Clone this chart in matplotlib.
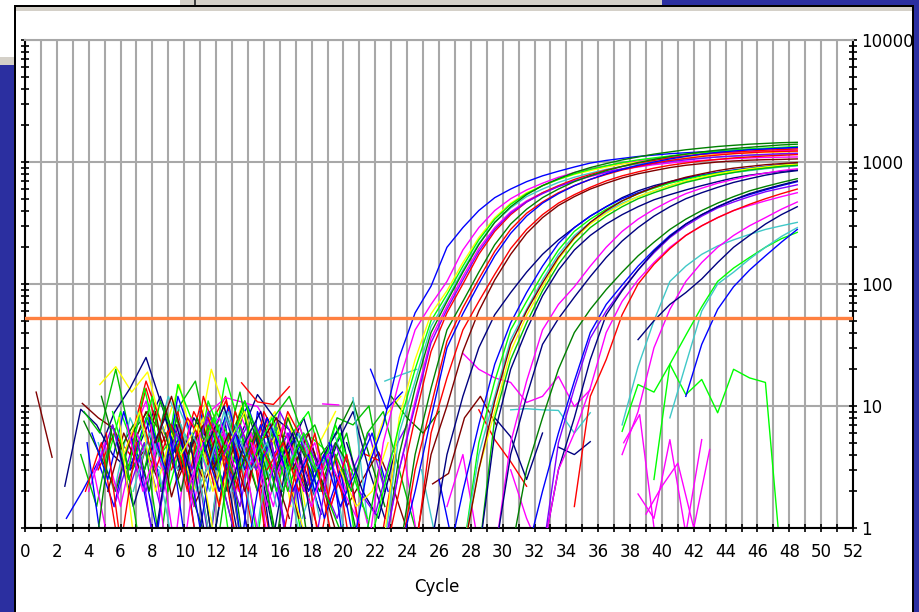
import numpy as np
import matplotlib
matplotlib.use('Agg')
import matplotlib.pyplot as plt
from matplotlib.patches import Rectangle
from matplotlib.ticker import FixedLocator, NullFormatter

BLUE = '#0000FF'
LIME = '#00FF00'
GREEN = '#00C000'
RED = '#FF0000'
MAG = '#FF00FF'
YEL = '#FFFF00'
CYAN = '#40C8C8'
DKGRN = '#008000'
MAROON = '#800000'
NAVY = '#000080'
PURPLE = '#8000FF'

threshold = 53
last_cycle = 48.5

# Amplification curves, one value per cycle, all ending at last_cycle
early_colors = [BLUE, MAG, YEL, LIME, CYAN, DKGRN, MAG, RED, PURPLE, DKGRN, RED, BLUE, MAROON, RED]
early_values = [
    [0.6, 3, 7, 25, 58, 96, 200, 290, 400, 510, 600, 690, 770, 840, 910, 980, 1030, 1070, 1110, 1140, 1170, 1190, 1210, 1230, 1250, 1270, 1280, 1300, 1310],
    [0.6, 5, 16, 42, 68, 105, 190, 290, 400, 500, 590, 670, 750, 820, 880, 930, 980, 1020, 1060, 1090, 1120, 1150, 1170, 1190, 1210, 1225, 1240, 1250],
    [0.7, 8, 24, 57, 88, 150, 240, 350, 460, 560, 640, 720, 790, 850, 910, 960, 1000, 1040, 1070, 1100, 1130, 1150, 1170, 1190, 1200, 1210, 1220],
    [0.6, 2, 7, 20, 50, 82, 140, 230, 340, 450, 550, 640, 720, 800, 870, 930, 990, 1040, 1080, 1120, 1160, 1190, 1220, 1250, 1280, 1300, 1320, 1340],
    [0.6, 6, 16, 45, 75, 130, 215, 320, 420, 520, 600, 680, 750, 810, 870, 920, 960, 1000, 1030, 1060, 1080, 1100, 1115, 1130, 1140, 1150, 1160],
    [0.5, 4, 14, 40, 72, 125, 210, 320, 430, 540, 640, 730, 820, 900, 970, 1040, 1100, 1160, 1210, 1260, 1300, 1340, 1370, 1400, 1420, 1440, 1450],
    [0.6, 3, 11, 36, 66, 115, 195, 290, 390, 480, 560, 630, 700, 760, 820, 870, 910, 950, 980, 1010, 1030, 1050, 1065, 1080, 1090, 1095, 1100],
    [0.5, 2, 8, 28, 58, 100, 175, 270, 370, 470, 560, 640, 720, 790, 860, 920, 980, 1030, 1080, 1120, 1160, 1190, 1210, 1230, 1250, 1265, 1280],
    [0.6, 3, 10, 33, 62, 108, 185, 280, 380, 470, 550, 630, 700, 770, 830, 880, 930, 970, 1010, 1040, 1070, 1100, 1120, 1140, 1155, 1170, 1180],
    [0.6, 4, 14, 42, 72, 125, 210, 310, 410, 510, 600, 690, 770, 850, 920, 990, 1050, 1110, 1160, 1210, 1250, 1290, 1320, 1350, 1380, 1400],
    [0.5, 3, 10, 34, 64, 110, 185, 280, 380, 470, 560, 640, 720, 790, 860, 920, 980, 1030, 1070, 1110, 1140, 1170, 1190, 1210, 1220, 1230],
    [0.6, 2, 8, 30, 57, 100, 170, 260, 360, 460, 550, 640, 720, 800, 870, 940, 1000, 1060, 1110, 1160, 1200, 1230, 1260, 1280, 1300, 1320],
    [0.7, 4, 10, 28, 60, 108, 175, 260, 350, 440, 520, 600, 670, 740, 800, 850, 900, 940, 970, 1000, 1020, 1035, 1045, 1050, 1060],
    [0.6, 6, 17, 42, 72, 120, 195, 280, 370, 460, 540, 620, 700, 770, 830, 890, 940, 980, 1020, 1050, 1080, 1100, 1120, 1135, 1150],
]

mid_colors = [NAVY, BLUE, LIME, CYAN, YEL, MAROON, GREEN, NAVY, MAG, NAVY, DKGRN]
mid_values = [
    [0.7, 4, 12, 30, 56, 85, 125, 175, 230, 290, 360, 430, 510, 580, 640, 690, 740, 780, 820, 850, 880, 900, 920, 940],
    [0.5, 2, 7, 22, 48, 85, 140, 215, 290, 360, 430, 500, 560, 620, 680, 730, 780, 820, 860, 890, 920, 950, 970],
    [0.6, 5, 16, 42, 72, 120, 190, 270, 340, 410, 480, 550, 610, 670, 720, 770, 810, 850, 880, 910, 940, 960],
    [0.6, 4, 12, 35, 62, 108, 175, 250, 320, 390, 460, 520, 580, 640, 690, 740, 780, 820, 850, 880, 910, 930],
    [0.6, 3, 9, 28, 55, 95, 160, 235, 310, 380, 450, 520, 580, 640, 700, 750, 800, 840, 880, 910, 940, 960],
    [0.6, 3, 11, 32, 60, 102, 165, 240, 320, 400, 480, 550, 620, 690, 750, 800, 850, 890, 920, 950, 970, 990],
    [0.6, 8, 24, 48, 88, 145, 215, 290, 360, 430, 500, 560, 620, 680, 730, 780, 820, 860, 890, 920, 940],
    [0.6, 6, 20, 42, 80, 130, 190, 250, 310, 370, 430, 490, 540, 590, 640, 690, 740, 780, 810, 840, 860],
    [0.6, 5, 16, 42, 68, 95, 140, 200, 270, 340, 410, 480, 550, 610, 670, 720, 770, 810, 850, 880],
    [0.6, 4, 12, 32, 52, 78, 115, 165, 225, 290, 360, 430, 500, 560, 620, 680, 730, 780, 820, 850],
    [0.6, 3, 8, 20, 40, 62, 90, 125, 170, 220, 280, 340, 400, 460, 520, 580, 630, 680, 730],
]

late_colors = [BLUE, PURPLE, NAVY, MAG, RED, CYAN, MAG, NAVY, LIME, CYAN, BLUE]
late_values = [
    [0.6, 2, 6, 16, 40, 68, 98, 140, 190, 250, 310, 370, 430, 490, 540, 590, 640, 690],
    [0.6, 5, 14, 36, 60, 90, 130, 180, 240, 300, 360, 420, 470, 520, 570, 610, 650],
    [0.6, 3, 8, 24, 56, 88, 130, 185, 245, 310, 370, 430, 490, 550, 600, 650, 700],
    [0.6, 3, 6, 14, 40, 72, 108, 150, 200, 250, 300, 350, 400, 440, 480, 520, 560],
    [1.5, 12, 24, 56, 100, 145, 195, 250, 300, 350, 400, 450, 500, 550, 600],
    [7, 21, 50, 105, 140, 175, 205, 230, 255, 280, 300, 320],
    [4, 9, 30, 62, 105, 150, 200, 250, 300, 350, 410, 470],
    [35, 50, 68, 85, 110, 150, 200, 250, 310, 370, 430],
    [2.5, 22, 38, 65, 105, 135, 165, 200, 235, 265],
    [8, 22, 60, 100, 125, 160, 200, 245, 290],
    [12, 32, 62, 95, 130, 170, 220, 280],
]

# Background noise of the non-amplifying wells: start cycle, colour, values
noise_starts = [0.7, 2.5, 2.6, 3.6, 4.7, 4.6, 3.7, 4.6, 5.6, 4.6, 3.7, 5.6, 6.6, 6.6, 7.6,
                8.6, 6.6, 9.6, 8.6, 10.6, 13.6, 14.6, 16.5, 15.6, 16.6, 18.7, 19.2, 18.6,
                20.6, 20.5, 21.7, 18.0, 21.4, 21.6, 12.6, 5.0, 7.0, 9.0, 11.0, 13.0, 14.0,
                4.0, 15.4, 17.4, 27.5, 30.5, 33.5, 28.5, 29.5, 37.5, 37.6, 38.5, 39.0,
                25.6, 22.6, 23.0, 26.5, 30.5,
                3.5, 3.8, 4.2, 4.5, 4.8, 5.2, 5.5, 5.8, 6.2, 6.4, 6.8, 7.2, 7.5, 7.8, 8.2,
                8.5, 8.8, 9.2, 9.5, 9.8, 10.2, 10.5, 10.8, 11.2, 11.5, 11.8, 12.2, 12.5,
                12.8, 13.2, 13.5, 14.2, 14.5, 15.2, 15.8, 16.2, 17.0, 17.8, 19.5, 20.2,
                21.0, 19.8,
                3.9, 4.3, 5.1, 5.9, 6.3, 7.1, 7.9, 8.4, 9.1, 9.9, 10.4, 11.1, 11.9, 12.4,
                13.1, 13.9, 14.8, 15.5, 16.4, 17.3, 18.4, 19.1, 20.0, 23.8, 24.9, 26.0,
                4.4, 6.0, 8.0, 10.0, 12.0, 14.0, 16.0, 18.2, 21.2, 22.3]
noise_colors = [MAROON, NAVY, BLUE, MAROON, YEL, NAVY, GREEN, RED, MAG, CYAN, DKGRN, PURPLE,
                BLUE, RED, LIME, YEL, MAROON, NAVY, CYAN, GREEN, RED, RED, YEL, DKGRN, PURPLE,
                MAG, MAROON, NAVY, CYAN, MAG, BLUE, LIME, RED, YEL, MAG, LIME, CYAN, RED,
                BLUE, PURPLE, YEL, MAG, BLUE, CYAN, MAG, CYAN, NAVY, RED, NAVY, LIME, MAG,
                MAG, MAG, MAROON, CYAN, DKGRN, MAG, MAG,
                GREEN, RED, BLUE, PURPLE, DKGRN, MAROON, LIME, NAVY, YEL, MAG, CYAN, RED,
                GREEN, BLUE, MAROON, PURPLE, DKGRN, RED, NAVY, YEL, MAG, CYAN, LIME, BLUE,
                RED, MAROON, GREEN, PURPLE, NAVY, CYAN, DKGRN, MAG, LIME, RED, BLUE, GREEN,
                MAG, BLUE, GREEN, NAVY, PURPLE, YEL,
                BLUE, MAG, RED, YEL, GREEN, PURPLE, MAG, CYAN, BLUE, RED, NAVY, YEL, LIME,
                RED, BLUE, MAG, GREEN, PURPLE, CYAN, NAVY, RED, BLUE, DKGRN, MAG, CYAN, BLUE,
                DKGRN, RED, NAVY, MAG, GREEN, BLUE, RED, PURPLE, GREEN, RED]
noise_values = [
    [13, 3.8],
    [2.2, 9.4, 7, 4, 3, 6, 12, 5, 2],
    [1.2, 2.0, 3.5, 1.5, 6, 2.5, 0.6],
    [10.5, 8, 6.5, 3, 4.5, 2, 7, 1.5, 3, 5, 0.7],
    [15, 21, 13, 19, 6, 15, 4, 20, 8, 3, 6, 9, 1.5],
    [4, 8.8, 14, 25, 10, 4, 2.5, 7, 3, 0.6],
    [9, 6, 20, 5, 8, 3, 10, 16, 4, 2, 9, 3],
    [3, 6, 4, 14, 5, 9, 2, 7, 12, 3, 0.6],
    [2, 5, 11, 3, 7, 1.5, 9, 11.7, 10.8, 9.9, 6, 2],
    [5, 2, 8, 4, 3, 10, 5, 2, 6, 0.7],
    [7.5, 4, 2, 6, 9, 3, 5, 1.5, 0.6],
    [1.5, 4, 2, 7, 3, 5, 0.7, 8, 3, 6, 2.5, 4, 1.2],
    [3, 8, 2, 12, 5, 3, 7, 0.7, 9, 4, 6, 0.6],
    [5, 16, 7, 3, 9, 5, 11, 4, 3, 0.6],
    [6, 2, 15, 7, 3, 17, 6, 0.8, 8, 3, 0.6],
    [3, 6, 2, 8, 4, 10, 3, 5, 8, 1.5],
    [4, 9, 6, 2.5, 5, 0.8, 8, 5, 2, 3, 1.2],
    [3, 8, 5, 2, 6, 12.4, 8.2, 6.4, 3, 1.3],
    [7, 3, 5, 0.8, 9, 4, 6, 2.5, 0.7],
    [4, 9, 3, 6, 2, 8, 12, 5, 3, 8, 7, 10, 2],
    [15.5, 10.8, 10.3, 14.4],
    [5.3, 5.8, 5.6, 2.2, 0.8],
    [8.8, 2, 5, 9],
    [3, 5, 2, 4, 6, 11, 4, 1.5],
    [1.5, 4, 2.5, 1.2, 3, 6, 2],
    [10.4, 10.2],
    [3.5, 1.5, 2.5, 4.2, 2, 0.8],
    [2, 5, 9, 3, 1.2],
    [11.7, 0.9],
    [3.7, 1.1],
    [20, 9.4, 13],
    [5.5, 4.2],
    [4, 3.5],
    [3.6, 8.2, 12],
    [5, 8, 4, 1.5, 6],
    [3, 9, 4, 12, 2, 6, 3, 9, 5],
    [9, 4, 12, 6, 3, 8, 2],
    [7, 3, 10, 4, 6, 2, 9, 5],
    [9, 3, 6, 10, 4, 7, 2.5, 5],
    [4, 7, 3, 9, 5, 2],
    [6, 3, 7, 2.5, 5],
    [2, 5, 1.5, 6, 3],
    [7, 3, 5, 1.5],
    [1.2, 3, 6, 2.5],
    [27, 20, 17, 15.6, 10.7, 12, 17.5, 9.9, 13.6],
    [9.3, 9.5, 9.3, 9.2, 6, 8.8],
    [4.6, 4.0, 5.1],
    [9.3, 5.3, 3.5, 2.2],
    [8, 5.6, 2.5, 6],
    [6.2, 15, 13, 22, 12.4, 16.5, 8.8, 20, 17, 15.6, 0.5],
    [5, 8.5, 0.8],
    [1.9, 1.2, 5.3, 0.9, 5.3],
    [1.3, 2.2, 3.4, 1.0, 4.4],
    [2.3, 2.8, 8, 12, 7],
    [16, 18, 20],
    [12, 8, 6, 9],
    [1.5, 4, 0.7],
    [3, 1.2, 0.6],
    [4, 1.5, 7, 2.5, 5, 0.7, 8, 3, 6, 2, 0.6],
    [2, 5, 0.8],
    [6, 2.5, 9, 3, 0.7, 7, 4, 0.7],
    [3, 7, 2, 5, 1.5, 6, 3, 8, 2, 0.6],
    [12, 4, 7, 2, 10, 3, 6, 0.7, 5, 0.6],
    [2, 6, 3, 9, 1.8, 5, 2.5, 7, 3, 0.7],
    [9, 3, 14, 4, 6, 2, 11, 5, 3, 7, 2],
    [5, 1.5, 4, 8, 3, 6, 0.7, 5, 9, 3, 0.7],
    [4, 9, 2, 6, 3, 8, 1.5, 5, 3],
    [7, 2, 5, 0.7, 8, 3, 6, 2, 4, 0.6],
    [2, 6, 3, 7, 2, 4, 9, 3, 5, 1.5],
    [10, 3, 7, 2, 12, 5, 2, 6, 0.7],
    [3, 11, 5, 2, 7, 4, 13, 3, 6, 2, 5],
    [8, 3, 6, 0.7, 4, 10, 3, 7, 2, 0.6],
    [5, 12, 4, 7, 2, 5, 3, 8, 4, 1.2],
    [2, 6, 3, 9, 4, 1.5, 7, 3, 6, 2, 4],
    [6, 2, 8, 3, 5, 11, 4, 0.8, 6, 0.7],
    [3, 8, 5, 1.5, 9, 4, 7, 2, 5],
    [7, 2.5, 5, 10, 3, 6, 0.7, 4, 8, 3],
    [4, 7, 2, 5, 9, 3, 6, 2, 0.7],
    [2, 5, 8, 3, 6, 1.5, 4, 7, 3, 5, 2],
    [6, 3, 9, 4, 0.8, 7, 3, 5, 1.2],
    [3, 8, 4, 11, 5, 2, 6, 9, 3, 6, 0.7],
    [5, 2, 6, 3, 8, 4, 6, 2, 5, 1.5],
    [8, 4, 2, 6, 3, 9, 5, 0.7, 4, 0.6],
    [3, 6, 2, 5, 8, 3, 6, 2, 0.7],
    [6, 2.5, 8, 4, 2, 5, 7, 3, 6, 1.5],
    [4, 7, 3, 5, 0.7, 6, 3, 5, 2],
    [2, 5, 9, 3, 6, 2, 4, 7, 1.5],
    [7, 3, 5, 2, 6, 3, 4, 0.7],
    [3, 6, 2, 8, 4, 2, 5, 3],
    [5, 2, 7, 3, 5, 1.5, 4, 0.6],
    [4, 8, 3, 6, 2.5, 7, 3, 1.2],
    [3, 5, 2, 6, 1.5, 4, 0.7],
    [5, 2, 4, 1.2, 3, 0.6],
    [2, 5, 3, 1.5, 0.7],
    [3, 1.5, 4, 2, 1.1],
    [2, 4, 1.5, 3, 6, 2],
    [4, 2, 6, 9, 3, 1],
    [5, 2, 1.2, 4],
    [2, 1.3, 4, 7],
    [3, 1.5, 2, 5],
    [5, 0.6], [3, 0.7], [6, 0.6], [8, 0.7], [4, 0.6], [5, 0.7], [7, 0.6], [3, 0.6],
    [6, 0.7], [4, 0.6], [5, 0.7], [3, 0.6], [6, 0.7], [4, 0.6], [5, 0.7], [3, 0.6],
    [4, 0.7], [5, 0.6], [3, 0.7], [4, 0.6], [3, 0.7], [5, 0.6], [3, 0.7], [4, 0.6],
    [3, 0.7], [2.5, 0.6],
    [0.6, 6], [0.7, 5], [0.6, 4], [0.7, 6], [0.6, 5], [0.7, 4], [0.6, 3], [0.7, 4],
    [0.6, 3], [0.7, 4],
]

x_labels = [str(c) for c in range(0, 53, 2)]
y_labels = ['1', '10', '100', '1000', '10000']

W, H = 920, 612
fig = plt.figure(figsize=(W / 100, H / 100), dpi=100)
fig.patch.set_facecolor('white')


def screen_rect(x0, y0, x1, y1, color, z):
    # rectangle given in screenshot pixels (origin top-left)
    fig.patches.append(Rectangle((x0 / W, 1 - y1 / H), (x1 - x0) / W, (y1 - y0) / H,
                                 transform=fig.transFigure, facecolor=color,
                                 edgecolor='none', zorder=z))


# Window frame of the screenshot
win_blue = '#2B2FA0'
screen_rect(0, 65, 15, H, win_blue, 5)
screen_rect(0, 57, 15, 65, '#D4D0C8', 5)
screen_rect(180, 0, 662, 5, '#D4D0C8', 5)
screen_rect(194, 0, 196, 5, '#404040', 5)
screen_rect(662, 0, W, 5, win_blue, 5)
screen_rect(913, 0, W, H, win_blue, 5)
screen_rect(15, 5, 913, 7, 'black', 6)
screen_rect(14, 5, 16, H, 'black', 6)
screen_rect(912, 5, 914, H, 'black', 6)
screen_rect(16, 7, 912, 11, '#D4D0C8', 5)

ax = fig.add_axes([25 / W, 1 - 528 / H, (853 - 25) / W, (528 - 40) / H])
ax.set_facecolor('white')
ax.set_yscale('log')
ax.set_xlim(0, 52)
ax.set_ylim(1, 10000)

# Plotting background noise
for x0, color, vals in zip(noise_starts, noise_colors, noise_values):
    xs = x0 + np.arange(len(vals))
    ax.plot(xs, vals, color=color, lw=1.0, zorder=2)

# Plotting amplification curves
for colors, curves in [(late_colors, late_values), (mid_colors, mid_values),
                       (early_colors, early_values)]:
    for color, vals in zip(colors, curves):
        xs = last_cycle - len(vals) + 1 + np.arange(len(vals))
        ax.plot(xs, vals, color=color, lw=1.0, zorder=3)

# Threshold line
ax.axhline(threshold, color='#FF8040', lw=2.4, zorder=4)

# Axes, ticks and grid
ax.xaxis.set_major_locator(FixedLocator(range(0, 53, 2)))
ax.xaxis.set_minor_locator(FixedLocator(range(1, 52, 2)))
ax.set_xticklabels(x_labels)
ax.set_yticks([1, 10, 100, 1000, 10000])
ax.set_yticklabels(y_labels)
minor_y = [m * 10 ** e for e in range(4) for m in range(2, 10)]
ax.yaxis.set_minor_locator(FixedLocator(minor_y))
ax.yaxis.set_minor_formatter(NullFormatter())

ax.tick_params(axis='x', which='both', direction='inout', length=5.5, width=1.2,
               colors='black', labelsize=12, pad=8)
ax.tick_params(axis='y', which='both', direction='inout', length=5.5, width=1.2,
               left=True, right=True, labelleft=False, labelright=True,
               labelsize=12, pad=3)

ax.grid(True, axis='x', which='both', color='#A8A8A8', lw=1.5, zorder=0)
ax.grid(True, axis='y', which='major', color='#A8A8A8', lw=1.5, zorder=0)
ax.set_axisbelow(True)

for side in ['left', 'right', 'bottom']:
    ax.spines[side].set_color('black')
    ax.spines[side].set_linewidth(1.5)
ax.spines['top'].set_color('#A8A8A8')
ax.spines['top'].set_linewidth(1.5)

fig.text(437 / W, 1 - 587 / H, 'Cycle', ha='center', va='center', fontsize=12)

fig.savefig('out.png', dpi=100)
